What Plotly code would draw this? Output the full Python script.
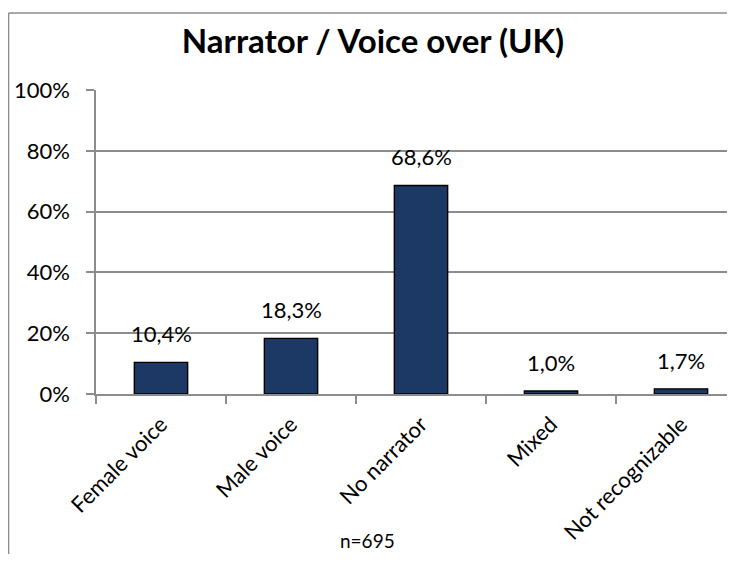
import plotly.graph_objects as go

categories = ["Female voice", "Male voice", "No narrator", "Mixed", "Not recognizable"]
values = [10.4, 18.3, 68.6, 1.0, 1.7]
y_ticks = [0, 20, 40, 60, 80, 100]
title = "Narrator / Voice over (UK)"
note = "n=695"

labels = [f"{v:.1f}%".replace(".", ",") for v in values]
FONT = "Lato"

# page body has an 8px margin; figure sized to fit inside 735x562 window
OFF = 8
W, H = 735 - 2 * OFF, 562 - 2 * OFF
L, T = 96 - OFF, 90 - OFF
B = H - (394 - OFF)
R = 0
pw, ph = W - L - R, H - T - B
CAT_W = 130.0


def px(x):
    return (x - OFF - L) / pw


def py(y):
    return 1 - (y - OFF - T) / ph


fig = go.Figure()
fig.add_trace(go.Bar(
    x=categories, y=values, width=0.41,
    marker=dict(color="#1c3864", line=dict(color="#000000", width=1.4)),
    hoverinfo="skip",
))
for c, v, t in zip(categories, values, labels):
    fig.add_annotation(x=c, y=v, text=t, showarrow=False, yanchor="bottom",
                       yshift=13, font=dict(size=22, color="#000", family=FONT))

fig.add_annotation(x=px(367), xref="paper", y=-B / ph, yref="paper", yanchor="bottom",
                   text=note, showarrow=False,
                   font=dict(size=19, color="#000", family=FONT))

border = dict(color="#8c8c8c", width=1.6)
fig.add_shape(type="line", xref="paper", yref="paper", x0=px(8.5), x1=px(760),
              y0=py(13), y1=py(13), line=border)
fig.add_shape(type="line", xref="paper", yref="paper", x0=px(8.5), x1=px(8.5),
              y0=py(13), y1=py(600), line=border)

fig.update_layout(
    width=W, height=H,
    margin=dict(l=L, r=R, t=T, b=B, autoexpand=False),
    paper_bgcolor="white", plot_bgcolor="white",
    showlegend=False,
    font=dict(family=FONT, size=22, color="#000"),
    title=dict(text=f"<b>{title}</b>", x=(373 - OFF) / W, xref="container", xanchor="center",
               y=1 - (41 - OFF) / H, yanchor="middle", yref="container",
               font=dict(size=33, family=FONT, color="#000")),
)
fig.update_xaxes(
    type="category", range=[-0.5, -0.5 + pw / CAT_W],
    tickson="boundaries", ticks="outside", ticklen=8, tickcolor="#8c8c8c", tickwidth=1.5,
    showline=True, linecolor="#8c8c8c", linewidth=1.5,
    tickangle=-45, showgrid=False, ticklabelstandoff=7,
    tickfont=dict(size=22, family=FONT, color="#000"),
)
fig.update_yaxes(
    range=[0, 100], tickvals=y_ticks, ticktext=[f"{t}%" for t in y_ticks],
    ticks="outside", ticklen=8, tickcolor="#8c8c8c", tickwidth=1.5,
    showline=True, linecolor="#8c8c8c", linewidth=1.5,
    showgrid=True, gridcolor="#8c8c8c", gridwidth=1.5,
    zeroline=False, ticklabelstandoff=12,
    tickfont=dict(size=22, family=FONT, color="#000"),
)

fig.write_html("out.html", config={"displayModeBar": False})
